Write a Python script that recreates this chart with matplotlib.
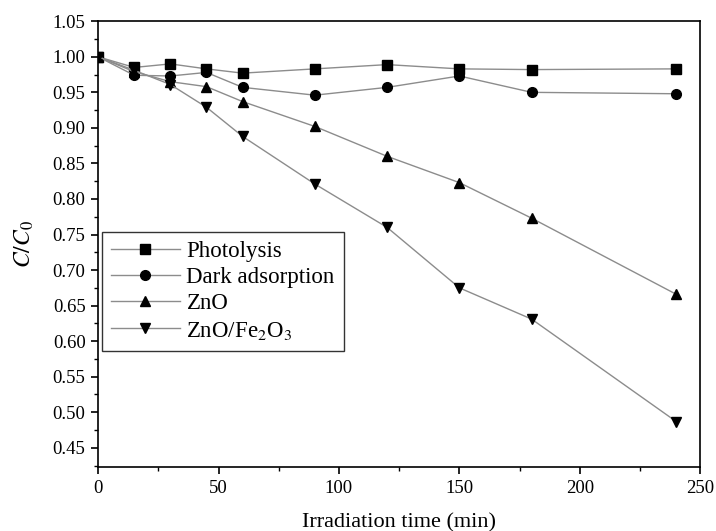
import matplotlib
matplotlib.use("Agg")
import matplotlib.pyplot as plt
from matplotlib.ticker import MultipleLocator

plt.rcParams['font.family'] = ['Liberation Serif', 'DejaVu Serif']
plt.rcParams['mathtext.fontset'] = 'stix'

# Datos
tiempo = [0, 15, 30, 45, 60, 90, 120, 150, 180, 240]
fotolisis = [1.000, 0.985, 0.990, 0.983, 0.977, 0.983, 0.989, 0.983, 0.982, 0.983]
adsorcion = [1.000, 0.974, 0.973, 0.978, 0.957, 0.946, 0.957, 0.973, 0.950, 0.948]
zno = [1.000, 0.979, 0.965, 0.958, 0.937, 0.902, 0.860, 0.823, 0.773, 0.666]
zno_fe2o3 = [1.000, 0.981, 0.961, 0.929, 0.888, 0.821, 0.760, 0.675, 0.631, 0.487]

series = [
    (fotolisis, 's', 'Photolysis'),
    (adsorcion, 'o', 'Dark adsorption'),
    (zno, '^', 'ZnO'),
    (zno_fe2o3, 'v', r'ZnO/Fe$_2$O$_3$'),
]

fig = plt.figure(figsize=(7.16, 5.31), dpi=100)
ax = fig.add_axes([0.137, 0.1205, 0.841, 0.8395])

for valores, marcador, etiqueta in series:
    ax.plot(tiempo, valores, color='#8c8c8c', linewidth=1.0, marker=marcador,
            markersize=7, markerfacecolor='black', markeredgecolor='black',
            label=etiqueta)

ax.set_xlim(0, 250)
ax.set_ylim(0.423, 1.05)
ax.set_yticks([0.45 + 0.05 * i for i in range(13)])
ax.xaxis.set_major_locator(MultipleLocator(50))
ax.xaxis.set_minor_locator(MultipleLocator(25))
ax.yaxis.set_minor_locator(MultipleLocator(0.025))
ax.yaxis.set_major_formatter(matplotlib.ticker.FormatStrFormatter('%.2f'))
ax.tick_params(which='both', direction='out', top=False, right=False, labelsize=13.5)
ax.tick_params(which='major', length=5, width=1.2, pad=4)
ax.tick_params(which='minor', length=3, width=1.0)
for lado in ax.spines.values():
    lado.set_linewidth(1.2)

ax.set_xlabel('Irradiation time (min)', fontsize=16, labelpad=12)
ax.set_ylabel(r'$C/C_0$', fontsize=17, labelpad=12)

leg = ax.legend(loc='upper left', bbox_to_anchor=(0.006, 0.527), fontsize=16.5,
                frameon=True, fancybox=False, edgecolor='black',
                handlelength=3.0, borderpad=0.4, labelspacing=0.22,
                handletextpad=0.3, borderaxespad=0)
leg.get_frame().set_linewidth(1.0)

fig.savefig('out.png', dpi=100)
